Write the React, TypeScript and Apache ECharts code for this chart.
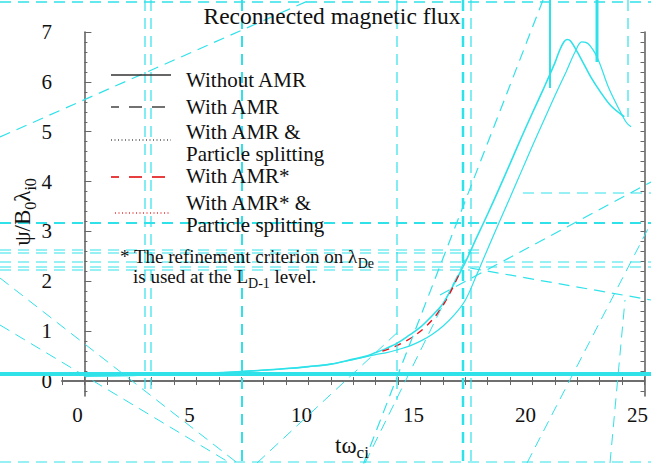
import React, { useEffect, useRef } from 'react';
import * as echarts from 'echarts';

// ---- data ----
const A_T = [0, 3, 5, 7, 9, 10, 11, 12, 12.5, 13, 13.5, 14, 14.5, 15, 15.5, 16, 16.5, 17, 17.5, 18, 18.5, 19, 19.5, 20, 20.5, 21, 21.2, 21.4, 21.55, 21.7, 22, 22.3, 22.6, 23, 23.5, 24.1];
const A_PSI = [0.1, 0.12, 0.15, 0.19, 0.25, 0.29, 0.34, 0.44, 0.49, 0.57, 0.66, 0.77, 0.92, 1.08, 1.3, 1.55, 1.95, 2.38, 2.87, 3.35, 3.85, 4.36, 4.88, 5.38, 5.87, 6.38, 6.62, 6.8, 6.85, 6.82, 6.6, 6.35, 6.1, 5.82, 5.52, 5.3];

const B_T = [0, 3, 5, 7, 9, 10, 11, 12, 13, 13.5, 14, 14.5, 15, 15.5, 16, 16.5, 17, 17.5, 18, 18.5, 19, 19.5, 20, 20.5, 21, 21.5, 21.9, 22.2, 22.5, 22.9, 23.4, 23.9, 24.2, 24.4];
const B_PSI = [0.1, 0.12, 0.15, 0.19, 0.25, 0.29, 0.34, 0.43, 0.53, 0.57, 0.63, 0.7, 0.8, 0.93, 1.1, 1.32, 1.62, 2.12, 2.65, 3.17, 3.68, 4.2, 4.72, 5.22, 5.72, 6.2, 6.6, 6.8, 6.76, 6.48, 5.88, 5.42, 5.18, 5.1];

const R_T = [13.3, 13.8, 14.3, 14.8, 15.3, 15.8, 16.3, 16.8];
const R_PSI = [0.6, 0.68, 0.79, 0.93, 1.12, 1.38, 1.75, 2.22];

const X_LABELS = [0, 5, 10, 15, 20, 25];
const X_TICKS = [-1, 0, 1, 2, 3, 4, 5, 6, 7, 8, 9, 10, 11, 12, 13, 14, 15, 16, 17, 18, 19, 20, 21, 22, 23, 24, 25];
const Y_LABELS = [0, 1, 2, 3, 4, 5, 6, 7];
const Y_MINOR = [-0.2, 0.2, 0.4, 0.6, 0.8, 1.2, 1.4, 1.6, 1.8, 2.2, 2.4, 2.6, 2.8, 3.2, 3.4, 3.6, 3.8, 4.2, 4.4, 4.6, 4.8, 5.2, 5.4, 5.6, 5.8, 6.2, 6.4, 6.6, 6.8];

const LEGEND_LABELS = ['Without AMR', 'With AMR', 'With AMR &\nParticle splitting', 'With AMR*', 'With AMR* &\nParticle splitting'];

const CYAN = '#2fe2ea';
const FONT = '"Liberation Serif", "DejaVu Serif", serif';

// decorative stray strokes seen in the picture: [x1, y1, x2, y2, width, dashed]
const STRAYS: [number, number, number, number, number, boolean][] = [
  [0, 2, 651, 2, 1.5, true],
  [0, 374, 651, 374, 4, false],
  [0, 223, 651, 223, 2, true],
  [0, 250, 480, 250, 1.2, true],
  [0, 253, 480, 253, 1.2, true],
  [0, 262, 651, 262, 1.2, true],
  [0, 267, 651, 267, 1.2, true],
  [0, 270, 470, 270, 1.2, true],
  [523, 193, 651, 193, 1.2, true],
  [0, 462, 651, 462, 1.2, true],
  [145, 0, 145, 390, 1.2, true],
  [151, 0, 151, 390, 1.2, true],
  [242, 0, 242, 465, 2, true],
  [397, 0, 397, 400, 1.2, true],
  [463, 0, 463, 465, 2.5, true],
  [471, 0, 471, 465, 1.2, true],
  [550, 0, 550, 88, 2, false],
  [597, 0, 597, 62, 3, false],
  [628, 0, 628, 117, 1.2, true],
  [0, 137, 310, 0, 1.2, true],
  [543, 0, 363, 465, 1.2, true],
  [440, 295, 651, 182, 1.2, true],
  [470, 268, 651, 300, 1.2, true],
  [0, 278, 240, 465, 1, true],
  [0, 325, 230, 463, 1, true],
  [257, 463, 400, 330, 1, true],
  [365, 463, 470, 250, 1, true],
  [527, 463, 651, 223, 1, true],
  [610, 463, 625, 300, 1, true],
];

const pairs = (t: number[], v: number[]) => t.map((x, i) => [x, v[i]]);

export default function App() {
  const ref = useRef<HTMLDivElement>(null);
  useEffect(() => {
    document.body.style.margin = '0';
    const chart = echarts.init(ref.current!, null, { renderer: 'svg' });
    const axisColor = '#666';
    const tickLabel = { fontFamily: FONT, fontSize: 21, color: '#111' };

    const strays = STRAYS.map(([x1, y1, x2, y2, w, d]) => ({
      type: 'line', z: 50, silent: true,
      shape: { x1, y1, x2, y2 },
      style: { stroke: CYAN, lineWidth: w, lineDash: d ? [11, 7] : null },
    }));

    const legendLine = (y: number, x1: number, stroke: string, dash: number[] | null, off = 0) => ({
      type: 'line', z: 60, shape: { x1, y1: y, x2: 171, y2: y },
      style: { stroke, lineWidth: 1.3, lineDash: dash, lineDashOffset: off },
    });
    const txt = (x: number, y: number, text: string, size: number) => ({
      type: 'text', z: 60, x, y,
      style: { text, fontFamily: FONT, fontSize: size, lineHeight: 22, fill: '#111', verticalAlign: 'middle', align: 'left' },
    });
    const subRich = (size: number, sub: number, base: number) => ({
      n: { fontFamily: FONT, fontSize: size, fill: '#111', lineHeight: base, verticalAlign: 'middle' },
      s: { fontFamily: FONT, fontSize: sub, fill: '#111', lineHeight: base + 8, verticalAlign: 'bottom' },
    });

    chart.setOption({
      animation: false,
      grid: { left: 62, right: 3, top: 32, bottom: 69 },
      xAxis: [
        {
          type: 'value', min: -1, max: 25, position: 'bottom',
          axisLine: { lineStyle: { color: axisColor, width: 1.6 } },
          axisTick: { inside: true, length: 4, customValues: X_TICKS, lineStyle: { color: axisColor } },
          axisLabel: { ...tickLabel, customValues: X_LABELS, margin: 8, padding: [0, 14, 0, 0] },
          splitLine: { show: false },
        },
        {
          type: 'value', min: -1, max: 25, position: 'top',
          axisLine: { lineStyle: { color: axisColor, width: 1.6 } },
          axisTick: { inside: true, length: 4, customValues: X_TICKS, lineStyle: { color: axisColor } },
          axisLabel: { show: false },
          splitLine: { show: false },
        },
      ],
      yAxis: [
        {
          type: 'value', min: -0.3, max: 7, position: 'left',
          axisLine: { lineStyle: { color: axisColor, width: 1.6 } },
          axisTick: { inside: true, length: 7, customValues: Y_LABELS, lineStyle: { color: axisColor } },
          axisLabel: { ...tickLabel, customValues: Y_LABELS, margin: 10 },
          splitLine: { show: false },
        },
        {
          type: 'value', min: -0.3, max: 7, position: 'left',
          axisLine: { show: false },
          axisTick: { inside: true, length: 3, customValues: Y_MINOR, lineStyle: { color: axisColor } },
          axisLabel: { show: false },
          splitLine: { show: false },
        },
        {
          type: 'value', min: -0.3, max: 7, position: 'right',
          axisLine: { lineStyle: { color: axisColor, width: 1.6 } },
          axisTick: { inside: true, length: 4, customValues: Y_MINOR.concat(Y_LABELS), lineStyle: { color: axisColor } },
          axisLabel: { show: false },
          splitLine: { show: false },
        },
      ],
      series: [
        {
          name: 'Without AMR', type: 'line', data: pairs(A_T, A_PSI), showSymbol: false, smooth: 0.35,
          lineStyle: { color: CYAN, width: 1.6 }, z: 3,
        },
        {
          name: 'With AMR', type: 'line', data: pairs(B_T, B_PSI), showSymbol: false, smooth: 0.35,
          lineStyle: { color: CYAN, width: 1.2 }, z: 3,
        },
        {
          name: 'With AMR*', type: 'line', data: pairs(R_T, R_PSI), showSymbol: false, smooth: 0.35,
          lineStyle: { color: '#e8141a', width: 1.4, type: [7, 6] }, z: 4,
        },
      ],
      graphic: [
        ...strays,
        { type: 'text', z: 60, x: 332, y: 16, style: { text: 'Reconnected magnetic flux', fontFamily: FONT, fontSize: 23.5, fill: '#111', align: 'center', verticalAlign: 'middle' } },
        {
          type: 'text', z: 60, x: 22, y: 212, rotation: Math.PI / 2,
          style: { text: '{n|ψ/B}{s|0}{n|λ}{s|i0}', align: 'center', verticalAlign: 'middle', rich: subRich(23, 16, 24) },
        },
        {
          type: 'text', z: 60, x: 352, y: 445,
          style: { text: '{n|tω}{s|ci}', align: 'center', verticalAlign: 'middle', rich: subRich(23, 17, 24) },
        },
        legendLine(75, 111, '#333', null),
        legendLine(107, 111, '#444', [13, 10], 5),
        legendLine(140, 111, '#555', [1, 2.5]),
        legendLine(177, 111, '#e00000', [13, 10], 5),
        legendLine(213, 115, '#e33', [1, 2.5]),
        txt(186, 80, LEGEND_LABELS[0], 21),
        txt(186, 107, LEGEND_LABELS[1], 21),
        txt(186, 143, LEGEND_LABELS[2], 21),
        txt(186, 176, LEGEND_LABELS[3], 21),
        txt(186, 214, LEGEND_LABELS[4], 21),
        {
          type: 'text', z: 60, x: 120, y: 256,
          style: { text: '{n|* The refinement criterion on λ}{s|De}', align: 'left', verticalAlign: 'middle', rich: subRich(19, 14, 20) },
        },
        {
          type: 'text', z: 60, x: 133, y: 276,
          style: { text: '{n|is used at the L}{s|D-1}{n| level.}', align: 'left', verticalAlign: 'middle', rich: subRich(19, 14, 20) },
        },
      ],
    });
    return () => chart.dispose();
  }, []);
  return <div ref={ref} style={{ width: 651, height: 465 }} />;
}
